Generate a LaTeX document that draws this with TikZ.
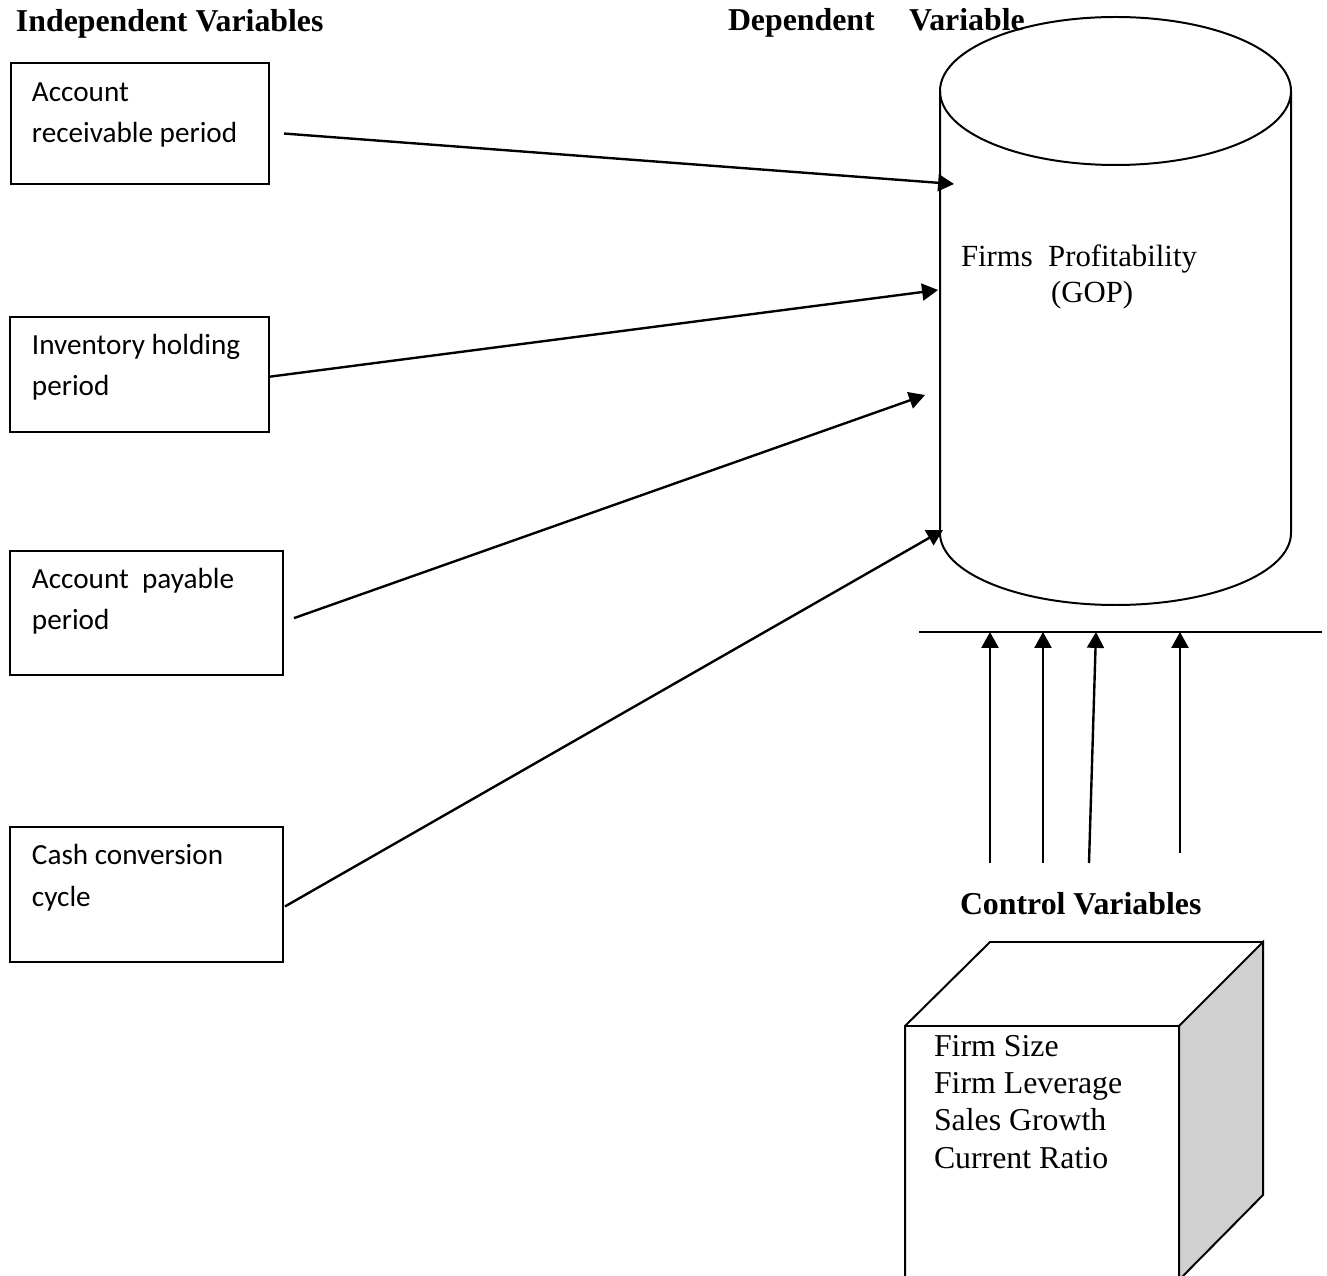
\documentclass[tikz,border=0pt]{standalone}
\usepackage{fontspec}
\setmainfont{Liberation Serif}
\newfontfamily\calibri{Carlito}
\usetikzlibrary{arrows.meta}

\definecolor{sidegray}{HTML}{D0D0D0}

\tikzset{
  ivbox/.style={draw, line width=0.75pt, anchor=north west, inner sep=0pt},
  ivtext/.style={anchor=base west, align=left, inner sep=0pt,
    font=\calibri\fontsize{11}{15.8}\selectfont},
  head/.style={anchor=base west, inner sep=0pt,
    font=\bfseries\fontsize{12}{14}\selectfont},
  plain/.style={anchor=base west, align=left, inner sep=0pt,
    font=\fontsize{11.6}{13.6}\selectfont},
  link/.style={line width=0.9pt, -{Triangle[length=6pt,width=6.4pt]}},
}

\begin{document}
\begin{tikzpicture}[x=0.377pt,y=-0.377pt,line width=0.75pt]
  \useasboundingbox (0,0) rectangle (1327,1276);

  % headings
  \node[head] (hind) at (15,32) {Independent Variables};
  \node[head] (hdep) at (727,31) {Dependent\hspace{13pt}Variable};

  % independent variables (text anchored on its last line)
  \node[ivbox, minimum width=97.3pt, minimum height=45.6pt] (arp) at (10,62) {};
  \node[ivtext] (arpt) at (31,143) {Account\\receivable period};
  \node[ivbox, minimum width=97.6pt, minimum height=43.4pt] (ihp) at (9,316) {};
  \node[ivtext] (ihpt) at (31,396) {Inventory holding\\period};
  \node[ivbox, minimum width=102.9pt, minimum height=46.8pt] (app) at (9,550) {};
  \node[ivtext] (appt) at (31,630) {Account\ \ payable\\period};
  \node[ivbox, minimum width=102.9pt, minimum height=50.9pt] (ccc) at (9,826) {};
  \node[ivtext] (ccct) at (31,906) {Cash conversion\\cycle};

  % dependent variable (cylinder)
  \draw (1115.5,91) ellipse [x radius=175.5, y radius=74];
  \draw (940,91) -- (940,533) arc [start angle=180, end angle=0,
    x radius=175.5, y radius=72] -- (1291,91);
  \node[plain] (gop) at (960,303) {Firms\ \ Profitability\\\hspace*{34pt}(GOP)};

  \coordinate (g1) at (954,184);
  \coordinate (g2) at (938,290);
  \coordinate (g3) at (925,395);
  \coordinate (g4) at (943,530);

  \draw[link] ([xshift=5.3pt,yshift=-3.8pt]arp.east) -- (g1);
  \draw[link] ([yshift=-0.8pt]ihp.east) -- (g2);
  \draw[link] ([xshift=3.8pt,yshift=-1.9pt]app.east) -- (g3);
  \draw[link] ([xshift=0.4pt,yshift=-4.5pt]ccc.east) -- (g4);

  % control variables
  \coordinate (bl) at (919,632);
  \coordinate (br) at (1322,632);
  \draw (bl) -- (br);
  \coordinate (c1) at (990,863);
  \coordinate (c2) at (1043,863);
  \coordinate (c3) at (1089,863);
  \coordinate (c4) at (1180,853);
  \draw[link] (c1) -- (990,632);
  \draw[link] (c2) -- (1043,632);
  \draw[link] (c3) -- (1096,632);
  \draw[link] (c4) -- (1180,632);
  \node[head] (hctl) at (959,914) {Control Variables};

  % box of control variables
  \filldraw[fill=sidegray] (1179,1026) -- (1263,942) -- (1263,1195)
    -- (1179,1280) -- cycle;
  \draw (905,1280) -- (905,1026) -- (990,942) -- (1263,942);
  \draw (905,1026) -- (1179,1026) -- (1179,1280);
  \node[plain, font=\fontsize{12}{14}\selectfont] (ctl) at (933,1168)
    {Firm Size\\Firm Leverage\\Sales Growth\\Current Ratio};
\end{tikzpicture}
\end{document}
